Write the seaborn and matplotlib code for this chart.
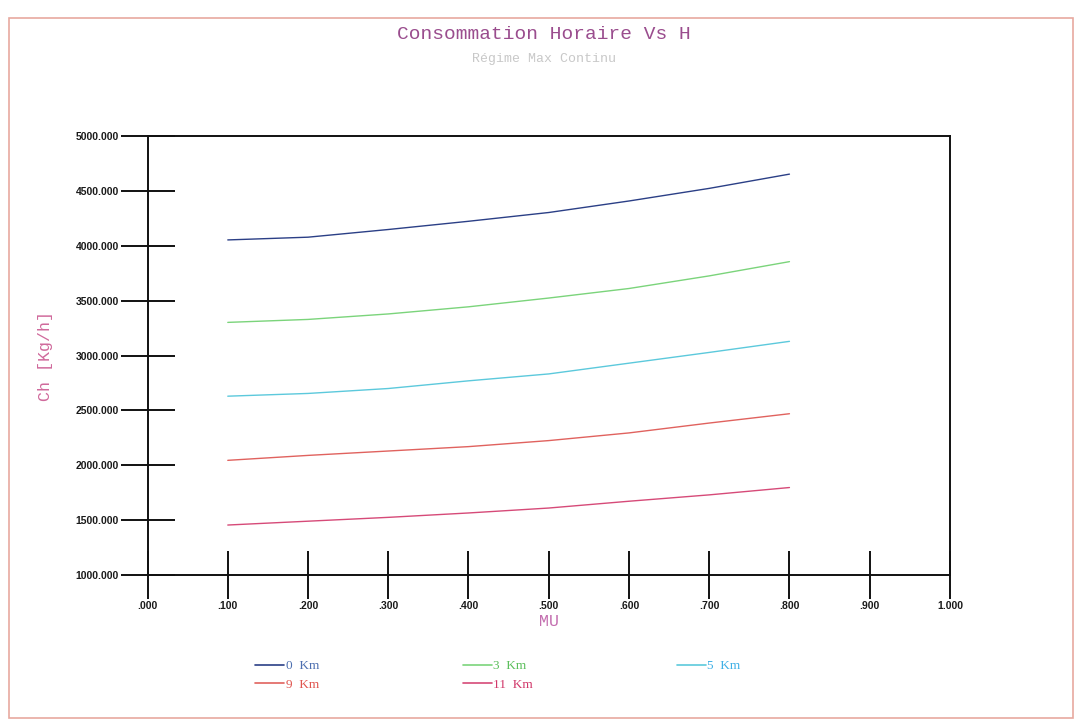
import matplotlib
matplotlib.use("Agg")
import matplotlib.pyplot as plt
import seaborn as sns
import pandas as pd
from matplotlib.patches import Rectangle
from matplotlib.ticker import FixedLocator, FixedFormatter

# Mach number (MU) sampled along each altitude curve
mu = [0.1, 0.2, 0.3, 0.4, 0.5, 0.6, 0.7, 0.8]

# Hourly consumption Ch [Kg/h] for each altitude
ch_0km = [4055, 4080, 4150, 4225, 4305, 4410, 4525, 4655]
ch_3km = [3303, 3330, 3380, 3445, 3525, 3612, 3727, 3857]
ch_5km = [2630, 2655, 2700, 2770, 2833, 2931, 3029, 3130]
ch_9km = [2045, 2090, 2130, 2170, 2225, 2295, 2385, 2470]
ch_11km = [1455, 1490, 1525, 1565, 1610, 1672, 1730, 1797]

altitudes = ["0  Km", "3  Km", "5  Km", "9  Km", "11  Km"]
line_colors = ["#2b3f86", "#7bd47b", "#5cc9dc", "#e0625e", "#d64a78"]
text_colors = ["#4d6fb0", "#5cbf5c", "#3fb0e6", "#e0554f", "#d1386a"]

x_ticks = [0.0, 0.1, 0.2, 0.3, 0.4, 0.5, 0.6, 0.7, 0.8, 0.9, 1.0]
x_tick_labels = [".000", ".100", ".200", ".300", ".400", ".500",
                 ".600", ".700", ".800", ".900", "1.000"]
y_ticks = [1000, 1500, 2000, 2500, 3000, 3500, 4000, 4500, 5000]
y_tick_labels = ["%.3f" % v for v in y_ticks]

frames = []
for name, vals in zip(altitudes, [ch_0km, ch_3km, ch_5km, ch_9km, ch_11km]):
    frames.append(pd.DataFrame({"MU": mu, "Ch": vals, "H": name}))
df = pd.concat(frames, ignore_index=True)

sns.set_theme(style="white")
plt.rcParams["font.family"] = ["DejaVu Sans"]

fig = plt.figure(figsize=(10.77, 7.25), dpi=100)
ax = fig.add_axes([0.137, 0.207, 0.745, 0.605])

sns.lineplot(data=df, x="MU", y="Ch", hue="H", hue_order=altitudes,
             palette=line_colors, linewidth=1.0, ax=ax, legend=False)

ax.set_xlim(0.0, 1.0)
ax.set_ylim(1000, 5000)
ax.xaxis.set_major_locator(FixedLocator(x_ticks))
ax.xaxis.set_major_formatter(FixedFormatter(x_tick_labels))
ax.yaxis.set_major_locator(FixedLocator(y_ticks))
ax.yaxis.set_major_formatter(FixedFormatter(y_tick_labels))

for s in ax.spines.values():
    s.set_color("#111111")
    s.set_linewidth(1.4)

ax.tick_params(axis="y", left=True, direction="inout", length=39, width=1.4,
               color="#111111", labelsize=7.5, pad=1, labelcolor="#1a1a1a")
ax.tick_params(axis="x", bottom=True, direction="inout", length=34, width=1.4,
               color="#111111", labelsize=7.5, pad=2, labelcolor="#1a1a1a")
for lab in ax.get_xticklabels() + ax.get_yticklabels():
    lab.set_fontfamily(["Liberation Sans Narrow", "Liberation Sans", "DejaVu Sans"])
    lab.set_fontweight("bold")

ax.set_xlabel("MU", color="#c46fb0", fontsize=12, family="Liberation Mono",
              labelpad=2)
ax.set_ylabel("Ch [Kg/h]", color="#d06a9c", fontsize=12, family="Liberation Mono",
              labelpad=4)
ax.yaxis.set_label_coords(-0.118, 0.5)

fig.text(0.505, 0.952, "Consommation Horaire Vs H", ha="center", va="center",
         fontsize=14, color="#9a4d8e", family="Liberation Mono")
fig.text(0.505, 0.918, "Régime Max Continu", ha="center", va="center",
         fontsize=9.5, color="#c8c8c8", family="Liberation Mono")

# Legend laid out row by row: 0, 3, 5 on the first line, 9, 11 on the second
handles = [plt.Line2D([], [], color=c, linewidth=1.2) for c in line_colors]
order = [0, 3, 1, 4, 2]
leg = fig.legend([handles[i] for i in order], [altitudes[i] for i in order],
                 ncol=3, loc="upper left", bbox_to_anchor=(0.226, 0.106),
                 frameon=False, handlelength=2.2, handletextpad=0.1,
                 columnspacing=10.9, labelspacing=0.5,
                 prop={"family": "Liberation Serif", "size": 9.5})
for txt, i in zip(leg.get_texts(), order):
    txt.set_color(text_colors[i])

# Thin page border
fig.patches.append(Rectangle((0.008, 0.01), 0.988, 0.965, transform=fig.transFigure,
                             fill=False, edgecolor="#e7a9a0", linewidth=1.2))

fig.savefig("out.png", dpi=100)
